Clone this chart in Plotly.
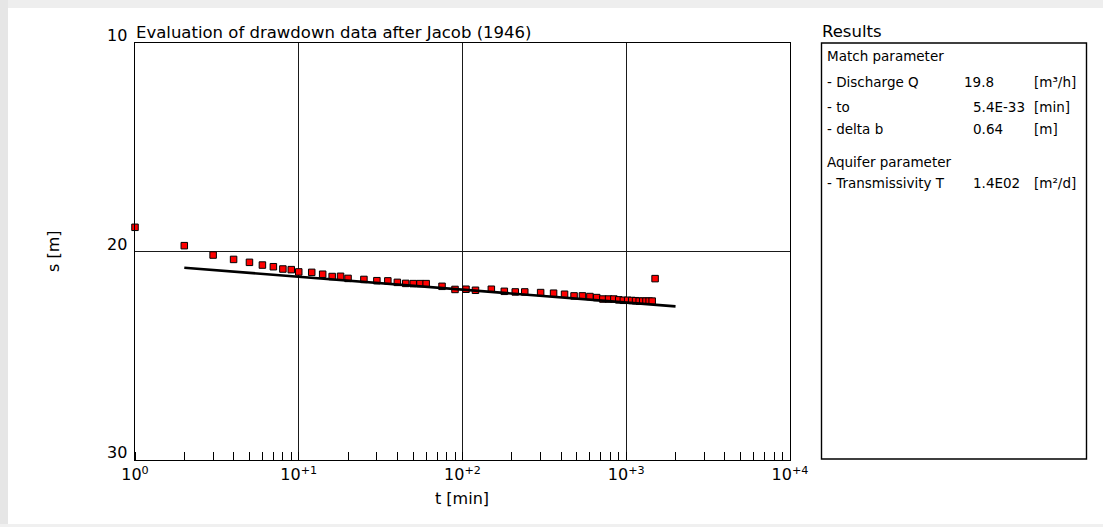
import plotly.graph_objects as go

# ---------------- data ----------------
t_min = [1, 2, 3, 4, 5, 6, 7, 8, 9, 10, 12, 14, 16, 18, 20, 25, 30, 35, 40, 45,
         50, 55, 60, 75, 90, 105, 120, 150, 180, 210, 240, 300, 360, 420, 480,
         540, 600, 660, 720, 780, 840, 900, 960, 1020, 1080, 1140, 1200, 1260,
         1320, 1380, 1440, 1500]
s_m = [18.84, 19.72, 20.17, 20.38, 20.52, 20.65, 20.73, 20.84, 20.87, 20.98,
       21.00, 21.09, 21.20, 21.19, 21.29, 21.34, 21.40, 21.41, 21.48, 21.53,
       21.54, 21.54, 21.54, 21.67, 21.82, 21.81, 21.86, 21.81, 21.91, 21.94,
       21.94, 21.97, 22.00, 22.05, 22.13, 22.13, 22.16, 22.21, 22.28, 22.28,
       22.28, 22.32, 22.34, 22.34, 22.35, 22.36, 22.38, 22.38, 22.38, 22.38,
       22.38, 21.30]

fit_t = [2, 2000]
fit_s = [20.78, 22.63]

x_tick_vals = [1, 10, 100, 1000, 10000]
x_tick_text = ["10<sup>0</sup>", "10<sup>+1</sup>", "10<sup>+2</sup>",
               "10<sup>+3</sup>", "10<sup>+4</sup>"]
y_tick_vals = [10, 20, 30]
y_tick_text = ["10", "20", "30"]

chart_title = "Evaluation of drawdown data after Jacob (1946)"
x_title = "t [min]"
y_title = "s [m]"

results_title = "Results"
result_labels = ["Match parameter", "- Discharge Q", "- to", "- delta b",
                 "Aquifer parameter", "- Transmissivity T"]
result_values = ["", "19.8", "5.4E-33", "0.64", "", "1.4E02"]
result_units = ["", "[m³/h]", "[min]", "[m]", "", "[m²/d]"]

# ---------------- layout geometry (pixels) ----------------
W, H = 1103, 527
PL, PR, PT, PB = 135, 790, 43, 460
FONT = "DejaVu Sans"


def fx(px):
    return (px - PL) / (PR - PL)


def fy(py):
    return (PB - py) / (PB - PT)


fig = go.Figure()

fig.add_trace(go.Scatter(
    x=t_min, y=s_m, mode="markers",
    marker=dict(symbol="square", size=6.5, color="#ff0000",
                line=dict(color="#000000", width=1)),
    cliponaxis=False, showlegend=False, hoverinfo="x+y"))

fig.add_trace(go.Scatter(
    x=fit_t, y=fit_s, mode="lines",
    line=dict(color="#000000", width=2.6),
    showlegend=False, hoverinfo="skip"))

axis_common = dict(
    showline=True, linecolor="#000000", linewidth=1.4, mirror=True,
    showgrid=True, gridcolor="#1a1a1a", gridwidth=1.4, zeroline=False,
    tickfont=dict(family=FONT, size=16, color="#000000"),
)

fig.update_xaxes(
    type="log", range=[0, 4],
    tickmode="array", tickvals=x_tick_vals, ticktext=x_tick_text,
    ticks="",
    minor=dict(ticks="inside", ticklen=8, tickcolor="#000000", tickwidth=1,
               dtick="D1", showgrid=False),
    **axis_common)

fig.update_yaxes(
    range=[30, 10],
    tickmode="array", tickvals=y_tick_vals, ticktext=y_tick_text,
    ticks="", showticklabels=False,
    **axis_common)

shapes = []
# light gray window shadow around the page
shapes.append(dict(type="rect", xref="paper", yref="paper",
                   x0=fx(0), x1=fx(W), y0=fy(0), y1=fy(8),
                   fillcolor="#eeeeee", line=dict(width=0), layer="below"))
shapes.append(dict(type="rect", xref="paper", yref="paper",
                   x0=fx(0), x1=fx(8), y0=fy(0), y1=fy(H),
                   fillcolor="#e6e6e6", line=dict(width=0), layer="below"))
shapes.append(dict(type="rect", xref="paper", yref="paper",
                   x0=fx(0), x1=fx(W), y0=fy(524), y1=fy(H),
                   fillcolor="#f0f0f0", line=dict(width=0), layer="below"))
# results box
shapes.append(dict(type="rect", xref="paper", yref="paper",
                   x0=fx(821.5), x1=fx(1086.5), y0=fy(43), y1=fy(459),
                   line=dict(color="#000000", width=1.4),
                   fillcolor="rgba(0,0,0,0)"))

annotations = []
# y tick labels sit just above their tick (as in the reference)
for v, txt in zip(y_tick_vals, y_tick_text):
    annotations.append(dict(text=txt, xref="paper", yref="y",
                            x=fx(129), y=v, xanchor="right", yanchor="bottom",
                            yshift=-4, showarrow=False,
                            font=dict(family=FONT, size=16, color="#000000")))
annotations.append(dict(text=chart_title, xref="paper", yref="paper",
                        x=fx(134), y=fy(33), xanchor="left", yanchor="middle",
                        showarrow=False,
                        font=dict(family=FONT, size=16.5, color="#000000")))
annotations.append(dict(text=x_title, xref="paper", yref="paper",
                        x=fx(462), y=fy(498), xanchor="center", yanchor="middle",
                        showarrow=False,
                        font=dict(family=FONT, size=16, color="#000000")))
annotations.append(dict(text=y_title, xref="paper", yref="paper",
                        x=fx(53), y=fy(251), xanchor="center", yanchor="middle",
                        textangle=-90, showarrow=False,
                        font=dict(family=FONT, size=16, color="#000000")))
annotations.append(dict(text=results_title, xref="paper", yref="paper",
                        x=fx(820), y=fy(32), xanchor="left", yanchor="middle",
                        showarrow=False,
                        font=dict(family=FONT, size=16.5, color="#000000")))

row_y = [56, 81.5, 107, 129.3, 161.5, 182.5]
for i, lab in enumerate(result_labels):
    annotations.append(dict(text=lab, xref="paper", yref="paper",
                            x=fx(825), y=fy(row_y[i]), xanchor="left",
                            yanchor="middle", showarrow=False,
                            font=dict(family=FONT, size=13.5, color="#000000")))
    if result_values[i]:
        vx = 961.5 if i == 1 else 971.5
        annotations.append(dict(text=result_values[i], xref="paper", yref="paper",
                                x=fx(vx), y=fy(row_y[i]), xanchor="left",
                                yanchor="middle", showarrow=False,
                                font=dict(family=FONT, size=13.5, color="#000000")))
    if result_units[i]:
        annotations.append(dict(text=result_units[i], xref="paper", yref="paper",
                                x=fx(1032), y=fy(row_y[i]), xanchor="left",
                                yanchor="middle", showarrow=False,
                                font=dict(family=FONT, size=13.5, color="#000000")))

fig.update_layout(
    width=W, height=H,
    margin=dict(l=PL, r=W - PR, t=PT, b=H - PB, autoexpand=False),
    paper_bgcolor="#ffffff", plot_bgcolor="#ffffff",
    shapes=shapes, annotations=annotations,
    font=dict(family=FONT, color="#000000"),
    showlegend=False,
)

fig.write_html(
    "out.html",
    post_script=("document.documentElement.style.overflow='hidden';"
                 "document.body.style.overflow='hidden';"
                 "document.body.style.margin='0';"),
)
